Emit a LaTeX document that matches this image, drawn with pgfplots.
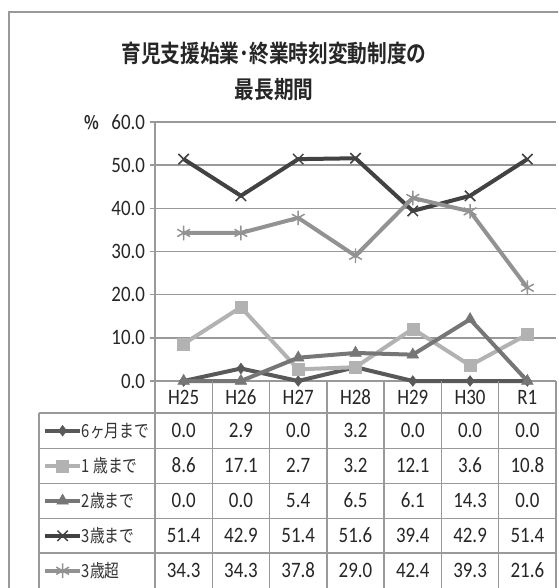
\documentclass[border=0pt]{standalone}
\usepackage{fontspec}
\usepackage{pgfplots}
\pgfplotsset{compat=1.18}
\setmainfont{Carlito}
\newfontfamily\numf[FakeStretch=0.86]{Carlito}
\newfontfamily\jpb[FakeStretch=0.82]{Noto Sans CJK JP Bold}
\newfontfamily\jpr[FakeStretch=0.82]{Noto Sans CJK JP}
\definecolor{cA}{HTML}{595959}
\definecolor{cB}{HTML}{B2B2B2}
\definecolor{cC}{HTML}{767676}
\definecolor{cD}{HTML}{424242}
\definecolor{cE}{HTML}{929292}
\definecolor{gridc}{HTML}{999999}
\begin{document}
\begin{tikzpicture}
\path[use as bounding box] (0,0) rectangle (418.5pt,-441pt);
\clip (0,0) rectangle (418.5pt,-441pt);
\fill[white] (0,0) rectangle (418.5pt,-441pt);
\begin{axis}[
  at={(116.25pt,-285.75pt)}, anchor=south west,
  scale only axis, width=300.75pt, height=194.25pt,
  xmin=-0.5, xmax=6.5, ymin=0, ymax=60,
  axis lines*=left, xtick=\empty,
  axis line style={draw=gridc, line width=1.1pt},
  ymajorgrids, major grid style={draw=gridc, line width=1.1pt},
  ytick={0,10,...,60}, tick align=outside, major tick length=4pt,
  tick style={draw=gridc, line width=1.1pt},
  yticklabel style={font=\numf\fontsize{16.5}{18}\selectfont, text=black!85},
  /pgf/number format/.cd, fixed, fixed zerofill, precision=1, assume math mode=true,
  /pgfplots/.cd,
  clip=false,
  legend style={at={(-0.2793,-0.12355)}, anchor=north west, draw=none, fill=none,
    inner sep=0pt, row sep=0pt,
    nodes={inner sep=0pt, text height=18pt, text depth=8.25pt, font=\jpr\fontsize{13.5}{15}\selectfont, text=black!80}},
  legend cell align=left,
  legend image code/.code={\draw[mark repeat=2,mark phase=2,#1] plot coordinates {(0pt,0pt)(13pt,0pt)(26pt,0pt)};},
]
\addplot[cA, line width=3pt, mark=diamond*, mark size=4pt, mark options={solid, line width=0.4pt}]
  coordinates {(0,0.0)(1,2.9)(2,0.0)(3,3.2)(4,0.0)(5,0.0)(6,0.0)};
\addlegendentry{6ヶ月まで}
\addplot[cB, line width=3pt, mark=square*, mark size=4.5pt, mark options={solid, line width=0.4pt}]
  coordinates {(0,8.6)(1,17.1)(2,2.7)(3,3.2)(4,12.1)(5,3.6)(6,10.8)};
\addlegendentry{1 歳まで}
\addplot[cC, line width=3pt, mark=triangle*, mark size=5pt, mark options={solid, line width=0.4pt}]
  coordinates {(0,0.0)(1,0.0)(2,5.4)(3,6.5)(4,6.1)(5,14.3)(6,0.0)};
\addlegendentry{2歳まで}
\addplot[cD, line width=3pt, mark=x, mark size=5.5pt, mark options={solid, line width=1.1pt}]
  coordinates {(0,51.4)(1,42.9)(2,51.4)(3,51.6)(4,39.4)(5,42.9)(6,51.4)};
\addlegendentry{3歳まで}
\addplot[cE, line width=3pt, mark=asterisk, mark size=5.5pt, mark options={solid, line width=1.1pt}]
  coordinates {(0,34.3)(1,34.3)(2,37.8)(3,29.0)(4,42.4)(5,39.3)(6,21.6)};
\addlegendentry{3歳超}
\end{axis}
\begin{scope}[x=0.75pt,y=-0.75pt]
\draw[gridc, line width=1.1pt] (9,700) -- (9,12) -- (700,12);
\node[font=\jpb\fontsize{18}{20}\selectfont, text=black!85] at (274,53) {育児支援始業･終業時刻変動制度の};
\node[font=\jpb\fontsize{18}{20}\selectfont, text=black!85] at (274,90) {最長期間};
\node[font=\jpb\fontsize{14}{15}\selectfont, text=black!85] at (92,123) {\%};
\foreach \i in {0,...,7} \draw[gridc, line width=1.1pt] ({155+57.286*\i},381) -- ({155+57.286*\i},700);
\foreach \y in {413,448.5,483.5,518.5,553} \draw[gridc, line width=1.1pt] (39,\y) -- (556,\y);
\draw[gridc, line width=1.1pt] (39,413) -- (39,700);
\foreach \lab [count=\i from 0] in {H25,H26,H27,H28,H29,H30,R1}
  \node[font=\numf\fontsize{16.5}{18}\selectfont, text=black!85] at ({155+57.286*(\i+0.5)},397) {\lab};
\foreach \row/\yy in {{0.0,2.9,0.0,3.2,0.0,0.0,0.0}/430.5,{8.6,17.1,2.7,3.2,12.1,3.6,10.8}/465.5,{0.0,0.0,5.4,6.5,6.1,14.3,0.0}/500.5,{51.4,42.9,51.4,51.6,39.4,42.9,51.4}/535.5,{34.3,34.3,37.8,29.0,42.4,39.3,21.6}/570.5}
  \foreach \v [count=\i from 0] in \row
    \node[font=\numf\fontsize{16.5}{18}\selectfont, text=black!85] at ({155+57.286*(\i+0.5)},\yy) {\v};
\end{scope}
\end{tikzpicture}
\end{document}
